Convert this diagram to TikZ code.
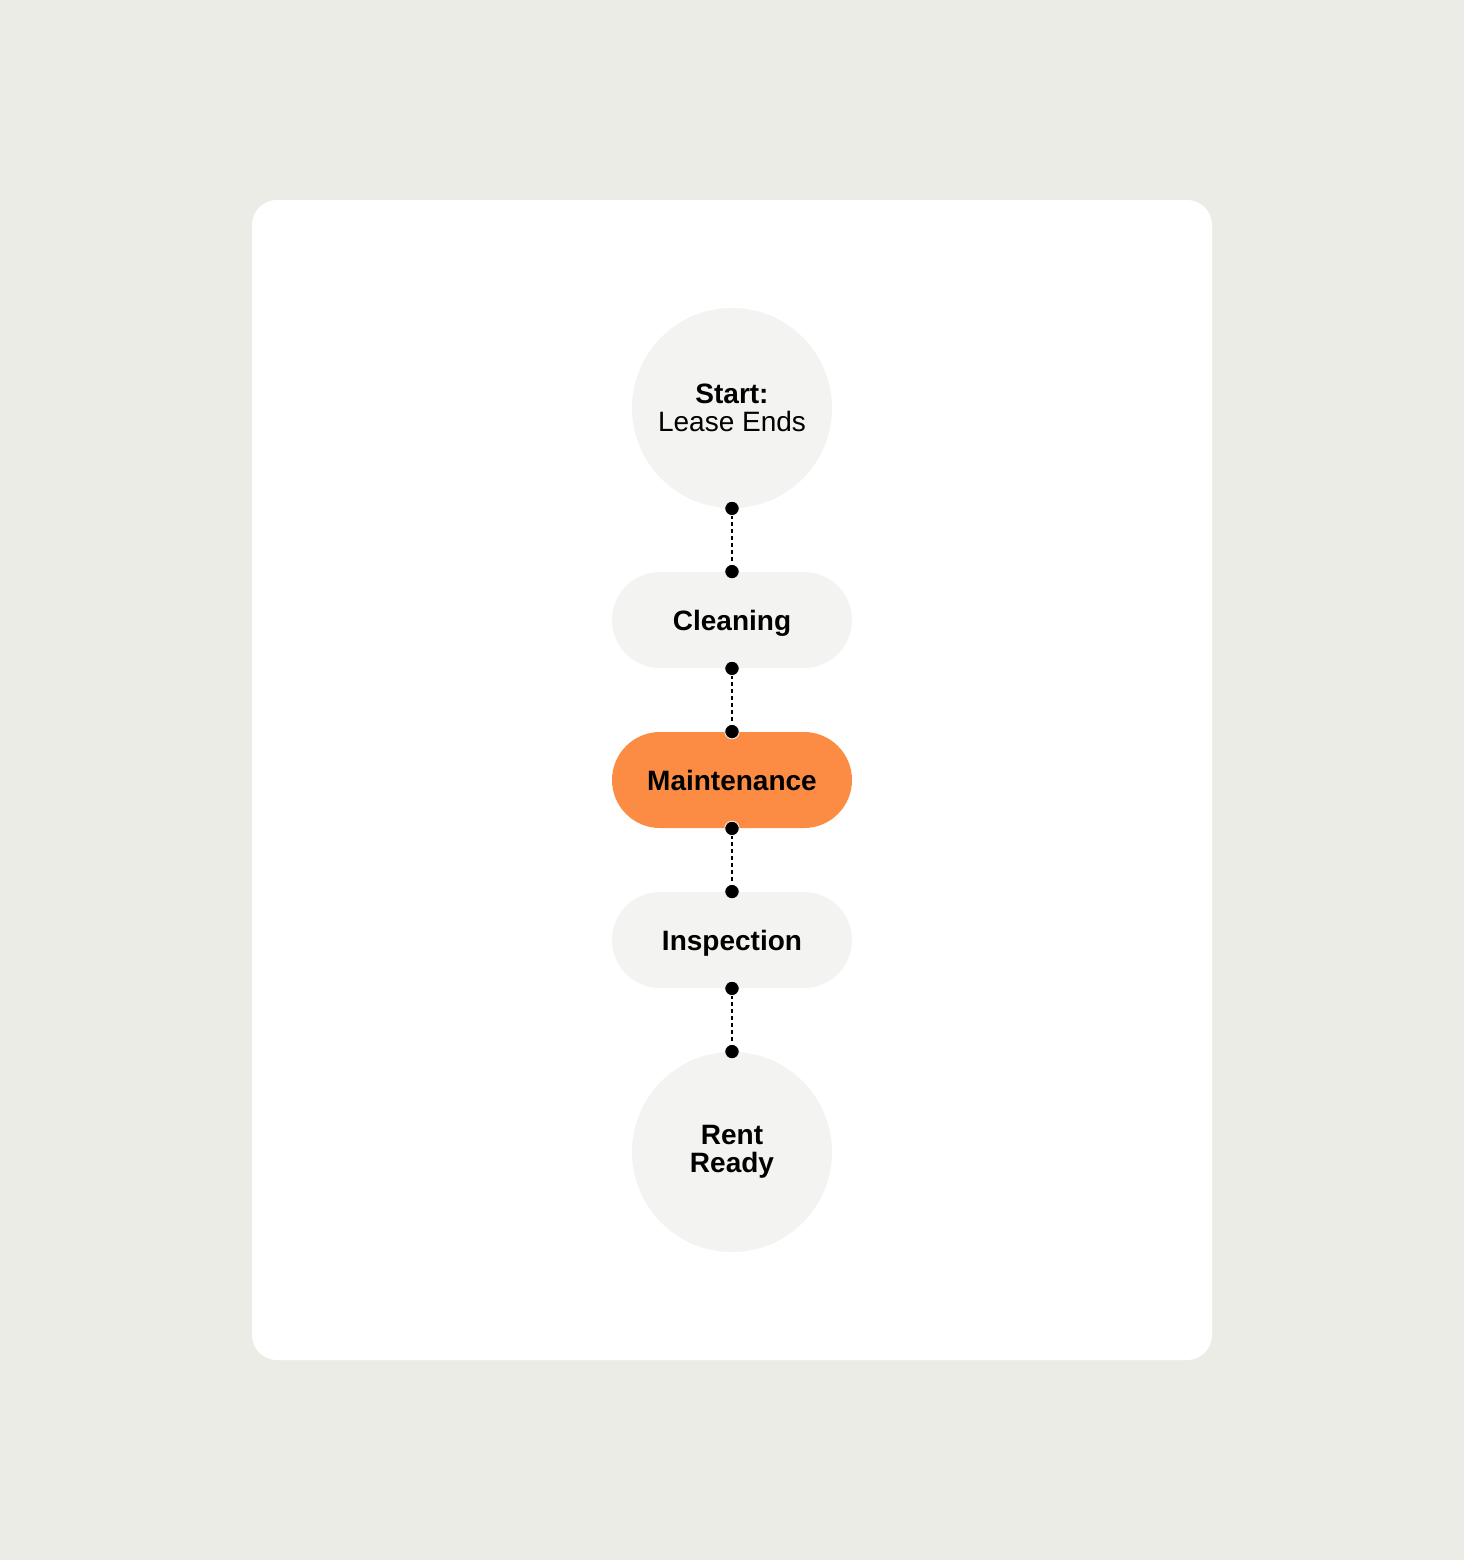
\documentclass[tikz,border=0pt]{standalone}
\usepackage{fontspec}
\setmainfont{Liberation Sans}
\definecolor{pagebg}{HTML}{ECECE7}
\definecolor{stepfill}{HTML}{F3F3F2}
\definecolor{hotfill}{HTML}{FC8C44}
\tikzset{
  stepcircle/.style={circle,fill=stepfill,minimum size=100pt,inner sep=0pt,align=center,
    font=\fontsize{14}{14}\selectfont},
  steppill/.style={rectangle,rounded corners=24pt,fill=stepfill,minimum width=120pt,
    minimum height=48pt,inner sep=0pt,text depth=0pt,font=\fontsize{14}{14}\selectfont\bfseries},
  link/.style={line width=0.8pt,dash pattern=on 2pt off 1.5pt},
  dotmark/.style={fill=black,draw=white,line width=0.4pt}
}
\begin{document}
\begin{tikzpicture}[x=0.5pt,y=-0.5pt]
  % background and card
  \fill[pagebg] (0,0) rectangle (1464,1560);
  \useasboundingbox (0,0) rectangle (1464,1560);
  \fill[white,rounded corners=12.5pt] (252,200) rectangle (1212,1360);

  % the steps
  \node[stepcircle] (start) at (732,408) {\textbf{Start:}\\Lease Ends};
  \node[steppill] (clean) at (732,620) {Cleaning};
  \node[steppill,fill=hotfill] (maint) at (732,780) {Maintenance};
  \node[steppill] (insp) at (732,940) {Inspection};
  \node[stepcircle,font=\fontsize{14}{14}\selectfont\bfseries] (ready) at (732,1152) {Rent\\Ready};

  % dotted links with end dots
  \foreach \a/\b in {start/clean, clean/maint, maint/insp, insp/ready} {
    \draw[link] (\a.south) -- (\b.north);
    \filldraw[dotmark] (\a.south) circle (3.6pt) (\b.north) circle (3.6pt);
  }
\end{tikzpicture}
\end{document}
